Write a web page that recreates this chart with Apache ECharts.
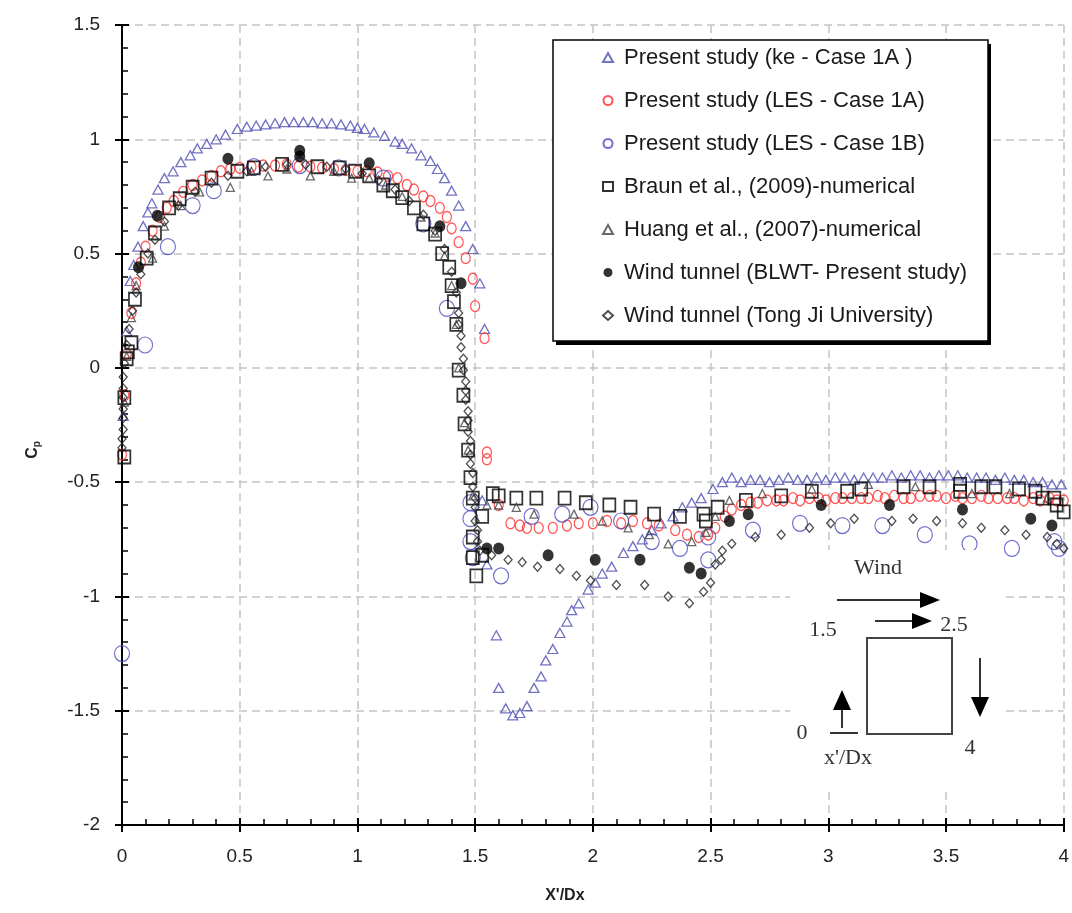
<!DOCTYPE html>
<html>
<head>
<meta charset="utf-8">
<script src="https://cdn.jsdelivr.net/npm/echarts@6/dist/echarts.min.js"></script>
<style>
  html, body { margin: 0; padding: 0; background: #fff; }
  #cp-chart { width: 1072px; height: 913px; }
</style>
</head>
<body>
<div id="cp-chart"></div>
<script>
// values, [x'/Dx, Cp]
let keCase1A = [
  [0.005,-0.21],[0.02,0.16],[0.035,0.38],[0.05,0.45],[0.068,0.53],[0.09,0.62],[0.11,0.68],[0.127,0.72],[0.153,0.78],[0.18,0.83],
  [0.217,0.86],[0.25,0.90],[0.29,0.93],[0.32,0.96],[0.36,0.98],[0.40,1.00],[0.44,1.02],[0.49,1.045],[0.53,1.055],[0.57,1.06],
  [0.61,1.065],[0.65,1.07],[0.69,1.075],[0.73,1.075],[0.77,1.075],[0.81,1.075],[0.85,1.07],[0.89,1.07],[0.93,1.065],[0.97,1.06],
  [1.0,1.05],[1.03,1.045],[1.07,1.03],[1.115,1.015],[1.16,0.99],[1.19,0.98],[1.23,0.96],[1.27,0.93],[1.31,0.905],[1.34,0.87],
  [1.37,0.83],[1.40,0.775],[1.43,0.71],[1.46,0.62],[1.49,0.52],[1.52,0.37],[1.54,0.17],[1.53,-0.58],[1.55,-0.86],
  [1.59,-1.17],[1.60,-1.40],[1.63,-1.49],[1.66,-1.52],[1.69,-1.51],[1.72,-1.48],[1.75,-1.40],[1.78,-1.35],[1.80,-1.28],[1.83,-1.23],
  [1.86,-1.16],[1.89,-1.11],[1.91,-1.06],[1.94,-1.03],[1.98,-0.97],[2.01,-0.94],[2.04,-0.90],[2.08,-0.87],[2.13,-0.81],[2.17,-0.78],
  [2.21,-0.75],[2.25,-0.71],[2.29,-0.68],[2.34,-0.65],[2.38,-0.61],[2.42,-0.59],[2.46,-0.57],[2.51,-0.53],[2.55,-0.50],[2.59,-0.48],
  [2.63,-0.50],[2.67,-0.49],[2.71,-0.49],[2.75,-0.50],[2.79,-0.49],[2.83,-0.48],[2.87,-0.49],[2.91,-0.49],[2.95,-0.48],[2.99,-0.49],
  [3.03,-0.48],[3.07,-0.48],[3.11,-0.49],[3.15,-0.48],[3.19,-0.48],[3.23,-0.48],[3.27,-0.47],[3.31,-0.48],[3.35,-0.47],[3.39,-0.47],
  [3.43,-0.48],[3.47,-0.47],[3.51,-0.47],[3.55,-0.47],[3.59,-0.48],[3.63,-0.48],[3.67,-0.48],[3.71,-0.49],[3.75,-0.48],[3.79,-0.49],
  [3.83,-0.49],[3.87,-0.50],[3.91,-0.50],[3.95,-0.51],[3.99,-0.51]
];

let lesCase1A = [
  [0.0,-0.38],[0.01,-0.12],[0.02,0.06],[0.04,0.24],[0.06,0.37],[0.08,0.46],[0.10,0.53],[0.13,0.60],[0.16,0.66],[0.19,0.70],
  [0.22,0.73],[0.26,0.77],[0.30,0.80],[0.34,0.82],[0.38,0.84],[0.42,0.86],[0.46,0.87],[0.50,0.875],[0.55,0.88],[0.60,0.885],
  [0.65,0.885],[0.70,0.89],[0.75,0.88],[0.80,0.88],[0.85,0.875],[0.90,0.87],[0.95,0.865],[1.00,0.86],[1.04,0.86],[1.085,0.855],
  [1.13,0.84],[1.17,0.83],[1.21,0.80],[1.24,0.78],[1.28,0.75],[1.31,0.73],[1.35,0.70],[1.38,0.66],[1.40,0.61],[1.43,0.55],
  [1.46,0.48],[1.49,0.39],[1.50,0.27],[1.54,0.13],[1.55,-0.37],[1.55,-0.40],[1.60,-0.60],[1.65,-0.68],[1.69,-0.69],[1.72,-0.70],
  [1.77,-0.70],[1.83,-0.70],[1.89,-0.69],[1.94,-0.68],[2.0,-0.68],[2.06,-0.67],[2.12,-0.68],[2.17,-0.67],[2.23,-0.68],[2.28,-0.69],
  [2.35,-0.71],[2.40,-0.73],[2.45,-0.74],[2.49,-0.73],[2.52,-0.70],[2.56,-0.65],[2.59,-0.62],[2.63,-0.60],[2.67,-0.59],[2.70,-0.59],
  [2.74,-0.58],[2.78,-0.58],[2.81,-0.58],[2.85,-0.57],[2.88,-0.58],[2.92,-0.57],[2.96,-0.57],[2.99,-0.58],[3.03,-0.57],[3.06,-0.57],
  [3.10,-0.57],[3.14,-0.57],[3.17,-0.57],[3.21,-0.56],[3.24,-0.57],[3.28,-0.56],[3.32,-0.57],[3.35,-0.57],[3.39,-0.56],[3.43,-0.56],
  [3.46,-0.56],[3.50,-0.57],[3.54,-0.56],[3.57,-0.57],[3.61,-0.57],[3.65,-0.56],[3.68,-0.57],[3.72,-0.57],[3.76,-0.57],[3.79,-0.57],
  [3.83,-0.58],[3.87,-0.57],[3.90,-0.58],[3.94,-0.57],[3.97,-0.58],[4.0,-0.58]
];

let lesCase1B = [
  [0.0,-1.25],[0.098,0.10],[0.195,0.53],[0.30,0.71],[0.39,0.775],[0.56,0.88],[0.755,0.885],[0.92,0.875],[1.11,0.83],[1.28,0.63],
  [1.38,0.26],[1.48,-0.59],[1.48,-0.66],[1.48,-0.76],[1.49,-0.83],[1.61,-0.91],[1.74,-0.65],[1.87,-0.64],[1.99,-0.61],[2.12,-0.67],
  [2.25,-0.76],[2.37,-0.79],[2.49,-0.74],[2.49,-0.84],[2.68,-0.71],[2.88,-0.68],[3.06,-0.69],[3.23,-0.69],[3.41,-0.73],[3.60,-0.77],
  [3.78,-0.79],[3.96,-0.76],[3.98,-0.79]
];

let braun2009 = [
  [0.01,-0.39],[0.01,-0.13],[0.02,0.04],[0.025,0.07],[0.04,0.11],[0.055,0.30],[0.105,0.48],[0.14,0.59],[0.20,0.70],[0.245,0.74],
  [0.30,0.79],[0.38,0.83],[0.49,0.86],[0.56,0.875],[0.68,0.89],[0.83,0.88],[0.925,0.875],[0.99,0.86],[1.05,0.84],[1.11,0.80],
  [1.15,0.775],[1.19,0.745],[1.24,0.70],[1.28,0.63],[1.33,0.585],[1.36,0.50],[1.39,0.44],[1.40,0.36],[1.41,0.29],[1.42,0.19],
  [1.43,-0.01],[1.45,-0.12],[1.455,-0.245],[1.47,-0.36],[1.48,-0.48],[1.49,-0.57],[1.49,-0.74],[1.49,-0.83],[1.505,-0.91],[1.53,-0.65],
  [1.53,-0.82],[1.575,-0.55],[1.60,-0.56],[1.675,-0.57],[1.76,-0.57],[1.88,-0.57],[1.97,-0.59],[2.07,-0.60],[2.16,-0.61],[2.26,-0.64],
  [2.37,-0.65],[2.47,-0.64],[2.48,-0.67],[2.53,-0.61],[2.65,-0.58],[2.80,-0.56],[2.93,-0.54],[3.08,-0.54],[3.14,-0.53],[3.32,-0.52],
  [3.43,-0.52],[3.56,-0.51],[3.56,-0.54],[3.65,-0.52],[3.71,-0.52],[3.81,-0.53],[3.88,-0.54],[3.91,-0.57],[3.96,-0.57],[3.97,-0.60],
  [4.0,-0.63]
];

let huang2007 = [
  [0.01,-0.15],[0.02,0.05],[0.04,0.22],[0.06,0.36],[0.13,0.48],[0.18,0.62],[0.25,0.71],[0.33,0.77],[0.46,0.79],[0.55,0.86],
  [0.62,0.84],[0.70,0.87],[0.80,0.84],[0.90,0.86],[0.975,0.83],[1.05,0.83],[1.12,0.80],[1.19,0.75],[1.27,0.66],[1.33,0.59],
  [1.37,0.49],[1.40,0.36],[1.42,0.19],[1.43,0.0],[1.455,-0.24],[1.47,-0.36],[1.49,-0.56],[1.55,-0.60],[1.60,-0.60],[1.675,-0.61],
  [1.75,-0.64],[1.92,-0.64],[2.04,-0.67],[2.15,-0.70],[2.24,-0.73],[2.32,-0.77],[2.42,-0.76],[2.48,-0.72],[2.52,-0.65],[2.58,-0.58],
  [2.72,-0.55],[2.93,-0.53],[3.17,-0.51],[3.37,-0.52],[3.61,-0.55],[3.77,-0.55],[3.93,-0.57]
];

let blwtTunnel = [
  [0.07,0.44],[0.15,0.665],[0.45,0.915],[0.755,0.95],[0.755,0.925],[1.05,0.895],[1.35,0.62],[1.44,0.37],[1.55,-0.79],[1.60,-0.79],
  [1.81,-0.82],[2.01,-0.84],[2.20,-0.84],[2.41,-0.875],[2.46,-0.90],[2.58,-0.67],[2.66,-0.64],[2.97,-0.60],[3.26,-0.60],[3.57,-0.62],
  [3.86,-0.66],[3.95,-0.69]
];

let tongjiTunnel = [
  [0.0,-0.35],[0.0,-0.31],[0.005,-0.27],[0.005,-0.22],[0.005,-0.18],[0.005,-0.13],[0.005,-0.09],[0.005,-0.04],[0.01,0.02],[0.02,0.10],
  [0.03,0.17],[0.045,0.25],[0.06,0.33],[0.08,0.41],[0.11,0.50],[0.14,0.56],[0.18,0.64],[0.24,0.71],[0.31,0.77],[0.38,0.81],
  [0.45,0.84],[0.53,0.86],[0.61,0.88],[0.70,0.89],[0.78,0.89],[0.87,0.88],[0.95,0.87],[1.02,0.85],[1.09,0.82],[1.16,0.78],
  [1.22,0.73],[1.28,0.67],[1.33,0.60],[1.37,0.52],[1.40,0.42],[1.42,0.33],[1.43,0.24],[1.43,0.19],[1.44,0.14],[1.44,0.09],
  [1.45,0.04],[1.45,-0.01],[1.46,-0.06],[1.46,-0.10],[1.46,-0.14],[1.47,-0.19],[1.47,-0.23],[1.47,-0.28],[1.48,-0.32],[1.48,-0.38],
  [1.48,-0.42],[1.49,-0.46],[1.49,-0.52],[1.50,-0.57],[1.50,-0.61],[1.50,-0.67],[1.51,-0.71],[1.51,-0.76],[1.52,-0.80],[1.57,-0.82],
  [1.64,-0.84],[1.70,-0.85],[1.765,-0.87],[1.86,-0.88],[1.93,-0.91],[1.99,-0.93],[2.10,-0.95],[2.22,-0.95],[2.32,-1.0],[2.41,-1.03],
  [2.47,-0.98],[2.50,-0.94],[2.52,-0.86],[2.545,-0.84],[2.55,-0.80],[2.59,-0.77],[2.69,-0.74],[2.80,-0.73],[2.92,-0.70],[3.01,-0.68],
  [3.11,-0.66],[3.27,-0.67],[3.36,-0.66],[3.46,-0.67],[3.57,-0.68],[3.65,-0.70],[3.75,-0.71],[3.84,-0.73],[3.93,-0.74],[3.97,-0.77],
  [4.0,-0.79]
];

let legendNames = [
  'Present study (ke - Case 1A )',
  'Present study (LES - Case 1A)',
  'Present study (LES - Case 1B)',
  'Braun et al., (2009)-numerical',
  'Huang et al., (2007)-numerical',
  'Wind tunnel (BLWT- Present study)',
  'Wind tunnel (Tong Ji University)'
];

let chart = echarts.init(document.getElementById('cp-chart'));

let makeSeries = (name, data, symbol, size, color, filled, width) => {
  return {
    name: name,
    type: 'scatter',
    data: data,
    symbol: symbol,
    symbolSize: size,
    itemStyle: {
      color: filled ? color : 'rgba(0,0,0,0)',
      borderColor: color,
      borderWidth: filled ? 0 : width
    },
    emphasis: { disabled: true }
  };
};

let labelFont = 'Liberation Sans, Arial, sans-serif';
let serif = 'Liberation Serif, Times New Roman, serif';

let commonAxis = {
  type: 'value',
  interval: 0.5,
  axisLine: { onZero: false, lineStyle: { color: '#000', width: 2 } },
  axisTick: { inside: true, length: 7, lineStyle: { color: '#000', width: 2 } },
  minorTick: { show: true, splitNumber: 5, length: 6, lineStyle: { color: '#000', width: 1.5 } },
  splitLine: { show: true, lineStyle: { color: '#c4c4c4', width: 1.5, type: [8, 5] } },
  axisLabel: { fontSize: 19, color: '#222', fontFamily: labelFont, margin: 22 }
};

// second copy of each axis only draws the outward half of the major ticks
let outerTicks = {
  type: 'value',
  interval: 0.5,
  axisLine: { show: false, onZero: false },
  axisTick: { show: true, inside: false, length: 7, lineStyle: { color: '#000', width: 2 } },
  axisLabel: { show: false },
  splitLine: { show: false }
};

let option = {
  backgroundColor: '#fff',
  animation: false,
  grid: { left: 122, right: 7, top: 25, bottom: 88 },
  xAxis: [
    Object.assign({}, commonAxis, {
      min: 0, max: 4,
      name: "X'/Dx",
      nameLocation: 'middle',
      nameGap: 63,
      nameTextStyle: { fontSize: 16, fontWeight: 'bold', color: '#222', fontFamily: labelFont, padding: [0, 56, 0, 0] }
    }),
    Object.assign({}, outerTicks, { min: 0, max: 4, position: 'bottom' })
  ],
  yAxis: [
    Object.assign({}, commonAxis, {
      min: -2, max: 1.5,
      name: '{c|C}{p|p}',
      nameLocation: 'middle',
      nameGap: 80,
      nameRotate: 90,
      nameTextStyle: {
        padding: [0, 50, 0, 0],
        rich: {
          c: { fontSize: 16, fontWeight: 'bold', color: '#222', fontFamily: labelFont },
          p: { fontSize: 10, fontWeight: 'bold', color: '#222', fontFamily: labelFont, padding: [8, 0, 0, 0] }
        }
      }
    }),
    Object.assign({}, outerTicks, { min: -2, max: 1.5, position: 'left' })
  ],
  legend: {
    orient: 'vertical',
    left: 553,
    top: 40,
    z: 8,
    data: legendNames,
    itemWidth: 10,
    itemHeight: 9,
    itemGap: 20,
    padding: [6, 14, 18, 49],
    textStyle: { fontSize: 22, color: '#1a1a1a', fontFamily: labelFont, lineHeight: 23, padding: [0, 0, 0, 6] }
  },
  graphic: {
    elements: [
      // legend frame with its offset shadow
      { type: 'rect', z: 6, shape: { x: 556, y: 44, width: 435, height: 301 }, style: { fill: '#000' } },
      { type: 'rect', z: 6, shape: { x: 553, y: 40, width: 435, height: 301 }, style: { fill: '#fff', stroke: '#000', lineWidth: 1.5 } },
      // inset sketch of the building and wind direction
      { type: 'rect', z: 5, shape: { x: 790, y: 550, width: 213, height: 237 }, style: { fill: '#fff' } },
      { type: 'text', z: 6, x: 878, y: 568, style: { text: 'Wind', font: '22px ' + serif, fill: '#333', align: 'center', verticalAlign: 'middle' } },
      { type: 'line', z: 6, shape: { x1: 837, y1: 600, x2: 924, y2: 600 }, style: { stroke: '#333', lineWidth: 2 } },
      { type: 'polygon', z: 6, shape: { points: [[920, 592], [940, 600], [920, 608]] }, style: { fill: '#000' } },
      { type: 'text', z: 6, x: 823, y: 630, style: { text: '1.5', font: '22px ' + serif, fill: '#333', align: 'center', verticalAlign: 'middle' } },
      { type: 'line', z: 6, shape: { x1: 875, y1: 621, x2: 915, y2: 621 }, style: { stroke: '#333', lineWidth: 2 } },
      { type: 'polygon', z: 6, shape: { points: [[912, 613], [932, 621], [912, 629]] }, style: { fill: '#000' } },
      { type: 'text', z: 6, x: 954, y: 625, style: { text: '2.5', font: '22px ' + serif, fill: '#333', align: 'center', verticalAlign: 'middle' } },
      { type: 'rect', z: 6, shape: { x: 867, y: 638, width: 85, height: 96 }, style: { fill: 'none', stroke: '#444', lineWidth: 2 } },
      { type: 'line', z: 6, shape: { x1: 980, y1: 658, x2: 980, y2: 700 }, style: { stroke: '#333', lineWidth: 2 } },
      { type: 'polygon', z: 6, shape: { points: [[971, 697], [989, 697], [980, 717]] }, style: { fill: '#000' } },
      { type: 'text', z: 6, x: 970, y: 748, style: { text: '4', font: '22px ' + serif, fill: '#333', align: 'center', verticalAlign: 'middle' } },
      { type: 'line', z: 6, shape: { x1: 842, y1: 728, x2: 842, y2: 706 }, style: { stroke: '#333', lineWidth: 2 } },
      { type: 'polygon', z: 6, shape: { points: [[833, 710], [851, 710], [842, 690]] }, style: { fill: '#000' } },
      { type: 'line', z: 6, shape: { x1: 830, y1: 733, x2: 858, y2: 733 }, style: { stroke: '#333', lineWidth: 2 } },
      { type: 'text', z: 6, x: 802, y: 733, style: { text: '0', font: '22px ' + serif, fill: '#333', align: 'center', verticalAlign: 'middle' } },
      { type: 'text', z: 6, x: 848, y: 758, style: { text: "x'/Dx", font: '22px ' + serif, fill: '#333', align: 'center', verticalAlign: 'middle' } }
    ]
  },
  series: [
    makeSeries(legendNames[0], keCase1A, 'triangle', [10, 9], '#4d4db3', false, 1.3),
    makeSeries(legendNames[1], lesCase1A, 'circle', [9, 11], '#ff2b2b', false, 1.3),
    makeSeries(legendNames[2], lesCase1B, 'circle', [15, 16], '#4c4cbf', false, 1.2),
    makeSeries(legendNames[3], braun2009, 'rect', [12, 13], '#000', false, 1.8),
    makeSeries(legendNames[4], huang2007, 'triangle', [8, 8], '#444', false, 1.3),
    makeSeries(legendNames[5], blwtTunnel, 'circle', [11, 12], '#000', true, 0),
    makeSeries(legendNames[6], tongjiTunnel, 'diamond', [8, 9], '#222', false, 1.3)
  ]
};

chart.setOption(option);
</script>
</body>
</html>
